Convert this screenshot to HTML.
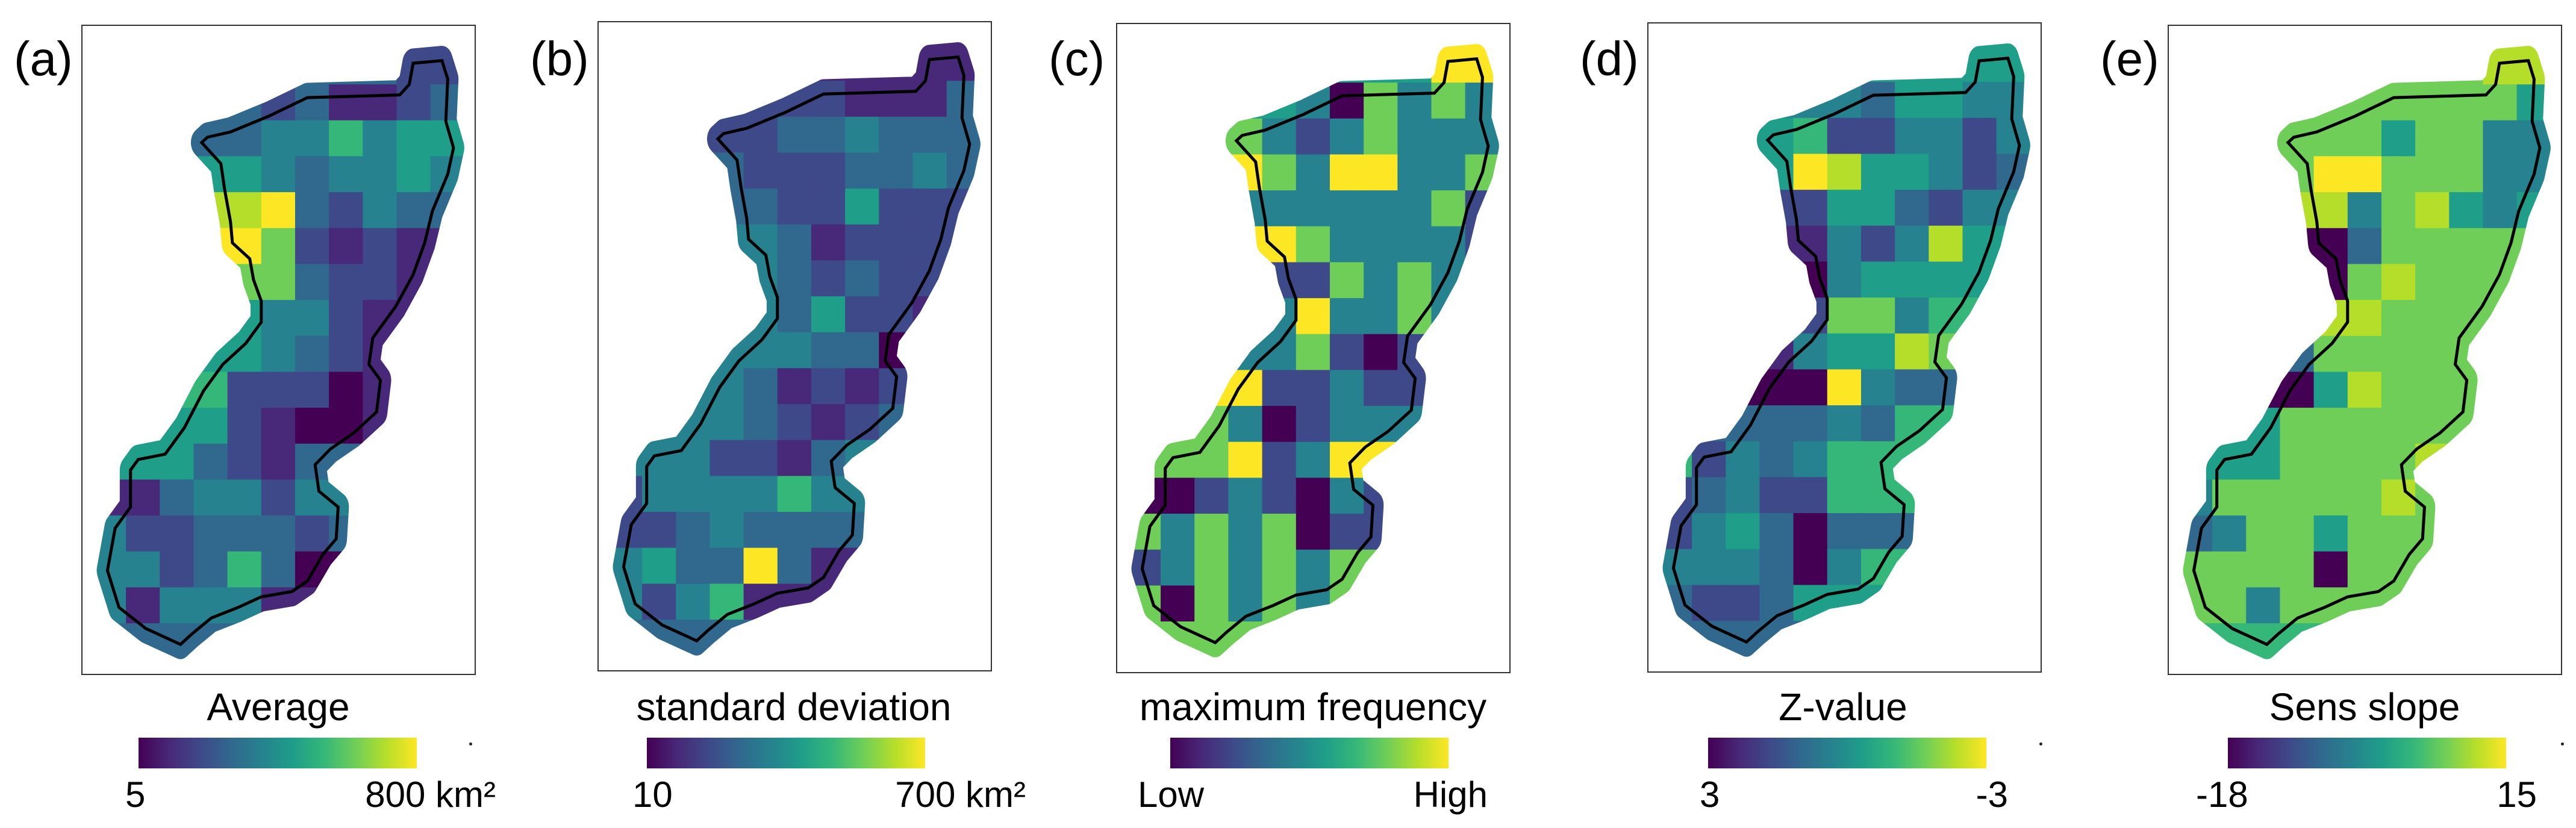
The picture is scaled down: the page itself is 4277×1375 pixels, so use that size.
<!DOCTYPE html>
<html><head><meta charset="utf-8">
<style>
html,body{margin:0;padding:0;background:#fff;}
body{width:4277px;height:1375px;position:relative;overflow:hidden;font-family:"Liberation Sans",sans-serif;color:#000;}
.box{position:absolute;border:2px solid #333;box-sizing:border-box;width:655px;height:1080px;}
.map{position:absolute;width:655px;height:1080px;}
.plab{position:absolute;font-size:80px;line-height:1;}
.title{position:absolute;font-size:64px;line-height:1;white-space:nowrap;transform:translateX(-50%);}
.cbar{position:absolute;height:51px;width:462px;background:linear-gradient(to right,#440154,#482878,#3e4989,#31688e,#26828e,#1f9e89,#35b779,#6ece58,#b5de2b,#fde725);}
.tick{position:absolute;font-size:60px;line-height:1;white-space:nowrap;}
.dot{position:absolute;width:5px;height:5px;background:#222;border-radius:50%;}
</style></head>
<body>
<div id="root"></div>
<script>
const viridis = ["#440154","#482878","#3e4989","#31688e","#26828e","#1f9e89","#35b779","#6ece58","#b5de2b","#fde725"];
const panelLetters = ["(a)","(b)","(c)","(d)","(e)"];
const panelTitles = ["Average","standard deviation","maximum frequency","Z-value","Sens slope"];
const tickLow = ["5","10","Low","3","-18"];
const tickHigh = ["800 km²","700 km²","High","-3","15"];
const avgGrid = [
[3,3,3,3,3,3,3,3,3,2,2],[3,3,3,3,3,2,3,1,1,2,3],[3,3,3,3,3,4,4,6,4,5,5],[5,5,5,5,5,4,3,4,4,5,4],
[8,8,8,8,8,9,3,2,4,3,3],[9,9,9,9,9,7,2,1,2,1,1],[7,7,7,7,7,7,3,2,2,1,1],[5,5,5,5,5,4,4,2,1,1,1],
[5,5,5,5,5,4,3,2,1,1,1],[6,6,6,6,2,2,2,0,1,1,1],[5,5,5,5,2,1,0,0,1,1,1],[5,5,5,3,2,1,3,3,3,3,3],
[1,1,3,4,4,2,4,4,4,4,4],[4,2,2,3,3,3,2,3,3,3,3],[4,4,2,3,6,3,0,0,0,0,0],[4,1,4,4,4,1,1,1,1,1,1],
[3,3,3,3,3,3,3,3,3,3,3]];
const sdGrid = [
[1,1,1,1,1,1,1,1,1,1,1],[2,2,2,2,2,2,2,1,1,1,3],[2,2,2,2,2,3,3,4,3,3,3],[3,3,3,3,2,2,2,3,3,4,3],
[3,3,3,3,3,2,2,5,2,2,2],[4,4,4,4,4,3,1,2,2,2,2],[4,4,4,4,4,3,2,3,2,2,2],[4,4,4,4,4,3,5,2,2,1,1],
[4,4,4,4,4,4,3,3,0,0,0],[4,4,4,4,3,1,2,1,2,2,2],[4,4,4,4,3,2,1,2,3,3,3],[4,4,4,2,2,1,3,4,4,4,4],
[2,4,4,4,4,6,4,4,4,4,4],[2,2,3,4,3,3,3,3,3,3,3],[4,5,3,3,9,3,1,1,1,1,1],[4,2,4,6,1,1,1,1,1,1,1],
[3,3,3,3,3,3,3,3,3,3,3]];
const freqGrid = [
[5,5,5,5,5,5,5,5,5,9,9],[5,5,5,5,5,4,0,7,4,7,4],[7,7,7,7,4,2,4,7,4,4,4],[9,9,9,9,7,4,9,9,4,4,7],
[4,4,4,4,4,4,4,4,4,7,2],[9,9,9,9,9,7,4,4,4,4,2],[2,2,2,2,2,2,7,4,7,4,4],[4,4,4,4,4,9,4,4,7,4,4],
[4,4,4,4,4,7,2,0,2,2,2],[9,9,9,9,2,2,4,2,2,2,2],[7,7,7,4,0,2,4,4,4,4,4],[7,7,7,9,2,4,9,9,4,4,4],
[0,0,2,4,2,0,4,2,2,2,2],[7,4,7,4,7,0,2,2,2,2,2],[2,4,7,4,7,4,7,7,7,7,7],[7,0,7,4,7,4,7,7,7,7,7],
[7,7,7,7,7,7,7,7,7,7,7]];
const zGrid = [
[5,5,5,5,5,5,5,5,5,5,5],[4,4,4,4,4,4,3,5,5,4,4],[5,5,5,5,6,2,2,4,4,2,4],[5,5,5,5,9,8,5,5,4,2,3],
[2,2,2,2,2,5,5,3,2,4,4],[1,1,1,1,1,4,2,4,8,5,5],[0,0,0,0,0,4,5,5,5,5,5],[2,2,2,2,2,7,7,4,6,6,6],
[1,1,1,1,4,5,5,8,7,7,7],[0,0,0,0,0,9,4,3,3,3,3],[3,3,3,3,3,4,3,6,6,6,6],[6,2,4,3,4,6,6,6,6,6,6],
[2,3,4,2,2,6,6,6,6,6,6],[2,4,5,3,0,3,3,3,3,3,3],[4,4,4,3,0,4,6,6,6,6,6],[3,2,2,3,5,5,5,5,5,5,5],
[3,3,3,3,3,3,3,3,3,3,3]];
const senGrid = [
[7,7,7,7,7,7,7,7,7,8,8],[7,7,7,7,7,7,7,7,7,7,5],[7,7,7,7,7,7,5,7,7,4,4],[7,7,7,7,9,9,7,7,7,4,4],
[8,8,8,8,8,4,7,8,5,4,5],[0,0,0,0,0,3,7,7,7,7,7],[0,0,0,0,0,7,8,7,7,7,7],[2,2,2,2,8,8,7,7,7,7,7],
[3,3,3,3,7,7,7,7,7,7,7],[0,0,0,0,5,8,7,7,7,7,7],[5,5,5,7,7,7,7,7,7,7,7],[5,5,5,7,7,7,7,8,8,8,8],
[4,7,7,7,7,7,8,7,7,7,7],[3,4,7,7,5,7,7,7,7,7,7],[7,7,7,7,0,7,7,7,7,7,7],[7,7,4,7,7,7,7,7,7,7,7],
[6,6,6,6,6,6,6,6,6,6,6]];
const grids = [avgGrid, sdGrid, freqGrid, zGrid, senGrid];

const boxX=[135,992,1853,2735,3599], boxY=[41,35,38,37,41];
const barX=[230,1074,1943,2836,3699];
const titleX=[462,1318,2180,3060,3926];
const basin="M1075,120 L1150,115 L1165,150 L1160,230 L1180,280 L1165,330 L1125,400 L1105,460 L1075,520 L1030,580 L970,640 L960,690 L990,720 L980,780 L920,820 L860,850 L820,880 L830,930 L880,960 L875,1020 L840,1050 L800,1100 L760,1120 L680,1130 L620,1150 L550,1170 L500,1200 L470,1220 L380,1190 L310,1150 L280,1080 L300,1000 L340,960 L340,890 L360,870 L430,860 L480,810 L530,740 L580,690 L640,650 L680,610 L680,570 L660,530 L650,490 L605,460 L600,420 L585,360 L575,310 L525,270 L540,260 L600,250 L700,220 L800,185 L1040,180 L1065,160 Z";
const NS="http://www.w3.org/2000/svg";
const root=document.getElementById('root');
function mk(tag,cls){const e=document.createElement(tag);if(cls)e.className=cls;root.appendChild(e);return e;}
for(let p=0;p<5;p++){
  const lab=mk('div','plab');
  
  
  lab.textContent=panelLetters[p];
  lab.style.left=(boxX[p]-112)+'px'; lab.style.top='58px';
  const svg=document.createElementNS(NS,'svg');
  
  
  svg.setAttribute('class','map');
  svg.setAttribute('viewBox','212 47 1026 1231');
  svg.setAttribute('preserveAspectRatio','none');
  svg.style.left=boxX[p]+'px'; svg.style.top=boxY[p]+'px';
  const mid='m'+p;
  svg.innerHTML='<defs><mask id="'+mid+'" maskUnits="userSpaceOnUse" x="0" y="0" width="1500" height="1500"><path d="'+basin+'" fill="#fff" stroke="#fff" stroke-width="56" stroke-linejoin="round"/></mask></defs>';
  const g=document.createElementNS(NS,'g');
  
  
  g.setAttribute('mask','url(#'+mid+')');
  const grid=grids[p];
  for(let r=0;r<grid.length;r++){
    for(let c=0;c<grid[r].length;c++){
      const rect=document.createElementNS(NS,'rect');
      
      
      let x=240+88*c, w=88;
      if(c===0){x-=60;w+=60;}
      if(c===grid[r].length-1){w+=60;}
      let y=92+68*r, h=68;
      if(r===0){y-=40;h+=40;}
      if(r===grid.length-1){h+=60;}
      rect.setAttribute('x',x);rect.setAttribute('y',y);
      rect.setAttribute('width',w+0.6);rect.setAttribute('height',h+0.6);
      rect.setAttribute('fill',viridis[grid[r][c]]);
      g.appendChild(rect);
    }
  }
  svg.appendChild(g);
  const line=document.createElementNS(NS,'path');
  
  
  line.setAttribute('d',basin);
  line.setAttribute('fill','none');
  line.setAttribute('stroke','#000');
  line.setAttribute('stroke-width','5');
  line.setAttribute('vector-effect','non-scaling-stroke');
  svg.appendChild(line);
  root.appendChild(svg);
  const box=mk('div','box');
  
  
  box.style.left=boxX[p]+'px'; box.style.top=boxY[p]+'px';
  const t=mk('div','title');
  
  
  t.textContent=panelTitles[p];
  t.style.left=titleX[p]+'px'; t.style.top='1142px';
  const cb=mk('div','cbar');
  
  
  cb.style.left=barX[p]+'px'; cb.style.top='1225px';
  const lo=mk('div','tick');
  
  
  lo.textContent=tickLow[p];
  const hi=mk('div','tick');
  
  
  hi.textContent=tickHigh[p];
  lo.style.top='1290px'; hi.style.top='1290px';
  const loX=[208,1050,1889,2822,3646], hiR=[823,1703,2470,3334,4212];
  lo.style.left=loX[p]+'px';
  hi.style.right=(4277-hiR[p])+'px';
  if(p===0||p===3||p===4){
    const d=mk('div','dot');
    
    
    d.style.left=[779,0,0,3386,4252][p]+'px'; d.style.top='1233px';
  }
}
</script>
</body></html>
